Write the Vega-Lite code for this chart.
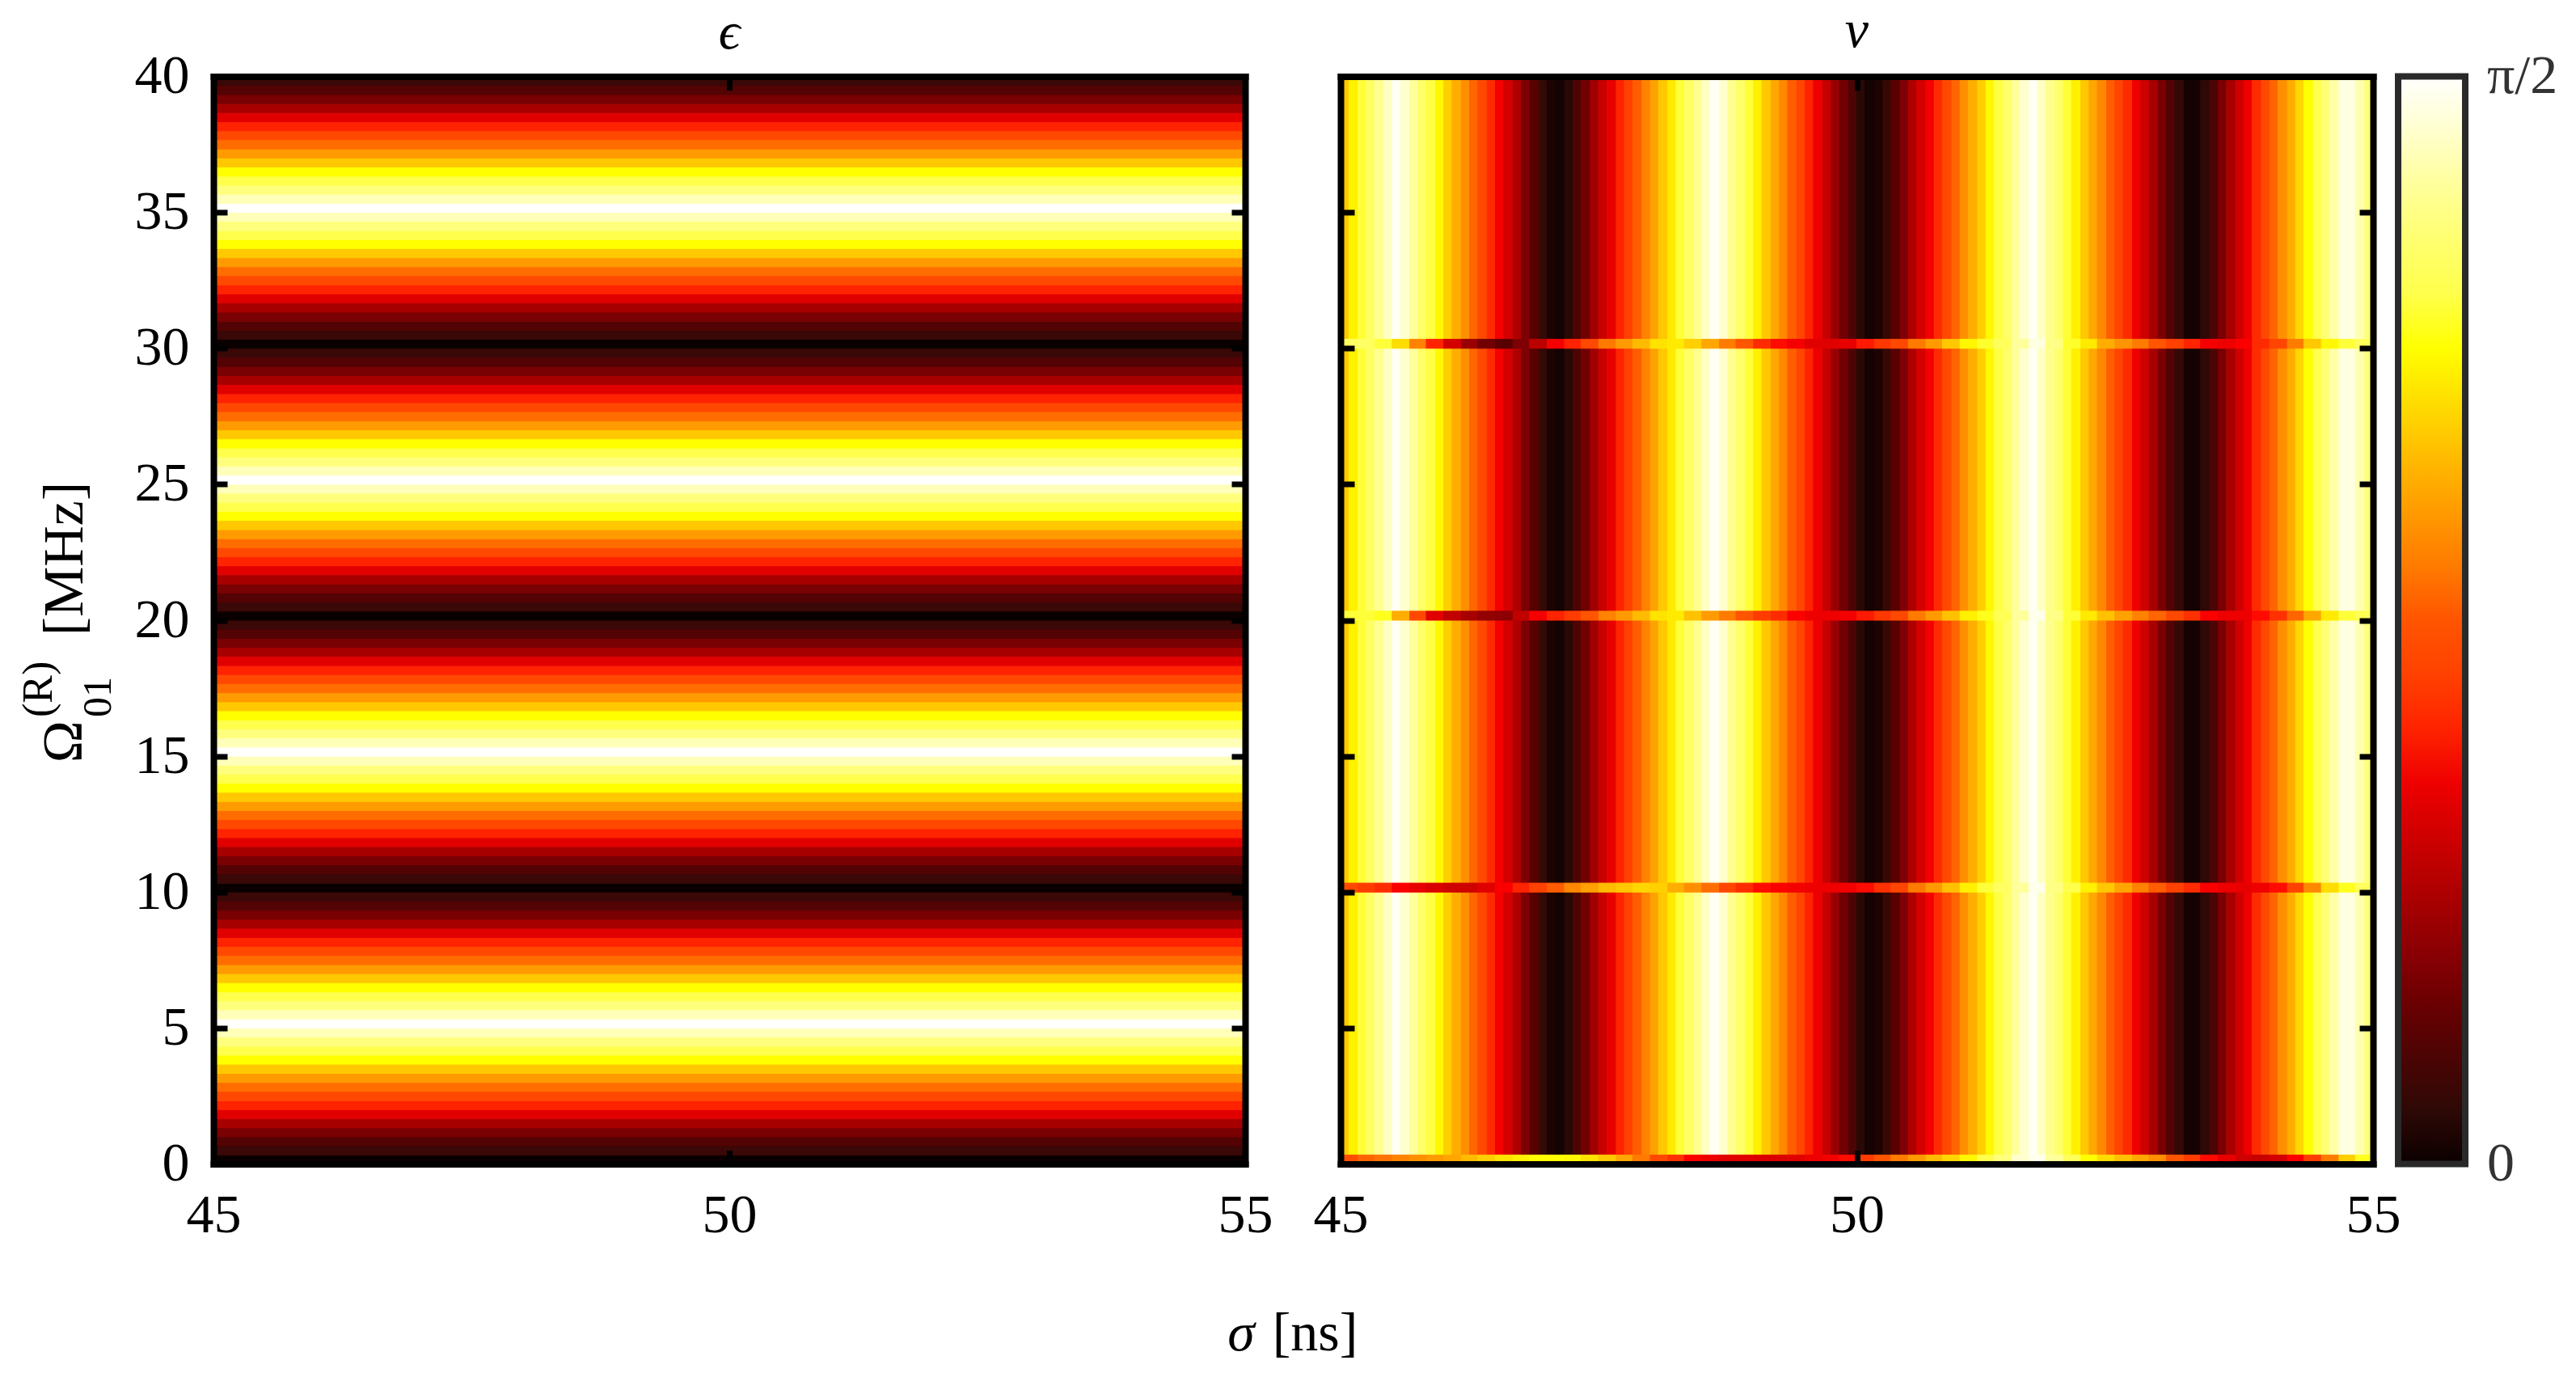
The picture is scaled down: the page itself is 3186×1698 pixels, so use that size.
{
"$schema":"https://vega.github.io/schema/vega-lite/v6.json",
"background":"white",
"padding":{"left":22,"top":4.5,"right":0,"bottom":0},
"bounds":"flush",
"spacing":118,
"config":{
"view":{"stroke":null},
"axis":{"grid":false,"domainColor":"#000","domainWidth":8,"domainCap":"square","tickColor":"#000","tickWidth":7,"tickSize":-17,"labelFont":"Liberation Serif","labelFontSize":68,"labelColor":"#000","titleFont":"Liberation Serif","titleFontSize":70,"titleFontWeight":"normal","titleColor":"#000","labelOverlap":false,"labelFlush":false},
"title":{"font":"Liberation Serif","fontSize":66,"fontWeight":"normal","fontStyle":"italic","color":"#000"},
"text":{"font":"Liberation Serif","color":"#000"}
},
"datasets":{
"epsilon":[
{"o0":0,"o1":0.33,"v":0},{"o0":0.33,"o1":0.67,"v":0.07},{"o0":0.67,"o1":1,"v":0.11},{"o0":1,"o1":1.33,"v":0.17},{"o0":1.33,"o1":1.67,"v":0.24},{"o0":1.67,"o1":2,"v":0.33},{"o0":2,"o1":2.33,"v":0.4},{"o0":2.33,"o1":2.67,"v":0.47},{"o0":2.67,"o1":3,"v":0.53},{"o0":3,"o1":3.33,"v":0.6},{"o0":3.33,"o1":3.67,"v":0.67},{"o0":3.67,"o1":4,"v":0.75},{"o0":4,"o1":4.33,"v":0.8},{"o0":4.33,"o1":4.67,"v":0.87},{"o0":4.67,"o1":5,"v":0.93},{"o0":5,"o1":5.33,"v":1},{"o0":5.33,"o1":5.67,"v":0.93},{"o0":5.67,"o1":6,"v":0.87},{"o0":6,"o1":6.33,"v":0.8},{"o0":6.33,"o1":6.67,"v":0.75},{"o0":6.67,"o1":7,"v":0.67},{"o0":7,"o1":7.33,"v":0.6},{"o0":7.33,"o1":7.67,"v":0.53},{"o0":7.67,"o1":8,"v":0.47},{"o0":8,"o1":8.33,"v":0.4},{"o0":8.33,"o1":8.67,"v":0.33},{"o0":8.67,"o1":9,"v":0.24},{"o0":9,"o1":9.33,"v":0.17},{"o0":9.33,"o1":9.67,"v":0.11},{"o0":9.67,"o1":10,"v":0.07},
{"o0":10,"o1":10.33,"v":0},{"o0":10.33,"o1":10.67,"v":0.07},{"o0":10.67,"o1":11,"v":0.11},{"o0":11,"o1":11.33,"v":0.17},{"o0":11.33,"o1":11.67,"v":0.24},{"o0":11.67,"o1":12,"v":0.33},{"o0":12,"o1":12.33,"v":0.4},{"o0":12.33,"o1":12.67,"v":0.47},{"o0":12.67,"o1":13,"v":0.53},{"o0":13,"o1":13.33,"v":0.6},{"o0":13.33,"o1":13.67,"v":0.67},{"o0":13.67,"o1":14,"v":0.75},{"o0":14,"o1":14.33,"v":0.8},{"o0":14.33,"o1":14.67,"v":0.87},{"o0":14.67,"o1":15,"v":0.93},{"o0":15,"o1":15.33,"v":1},{"o0":15.33,"o1":15.67,"v":0.93},{"o0":15.67,"o1":16,"v":0.87},{"o0":16,"o1":16.33,"v":0.8},{"o0":16.33,"o1":16.67,"v":0.75},{"o0":16.67,"o1":17,"v":0.67},{"o0":17,"o1":17.33,"v":0.6},{"o0":17.33,"o1":17.67,"v":0.53},{"o0":17.67,"o1":18,"v":0.47},{"o0":18,"o1":18.33,"v":0.4},{"o0":18.33,"o1":18.67,"v":0.33},{"o0":18.67,"o1":19,"v":0.24},{"o0":19,"o1":19.33,"v":0.17},{"o0":19.33,"o1":19.67,"v":0.11},{"o0":19.67,"o1":20,"v":0.07},
{"o0":20,"o1":20.33,"v":0},{"o0":20.33,"o1":20.67,"v":0.07},{"o0":20.67,"o1":21,"v":0.11},{"o0":21,"o1":21.33,"v":0.17},{"o0":21.33,"o1":21.67,"v":0.24},{"o0":21.67,"o1":22,"v":0.33},{"o0":22,"o1":22.33,"v":0.4},{"o0":22.33,"o1":22.67,"v":0.47},{"o0":22.67,"o1":23,"v":0.53},{"o0":23,"o1":23.33,"v":0.6},{"o0":23.33,"o1":23.67,"v":0.67},{"o0":23.67,"o1":24,"v":0.75},{"o0":24,"o1":24.33,"v":0.8},{"o0":24.33,"o1":24.67,"v":0.87},{"o0":24.67,"o1":25,"v":0.93},{"o0":25,"o1":25.33,"v":1},{"o0":25.33,"o1":25.67,"v":0.93},{"o0":25.67,"o1":26,"v":0.87},{"o0":26,"o1":26.33,"v":0.8},{"o0":26.33,"o1":26.67,"v":0.75},{"o0":26.67,"o1":27,"v":0.67},{"o0":27,"o1":27.33,"v":0.6},{"o0":27.33,"o1":27.67,"v":0.53},{"o0":27.67,"o1":28,"v":0.47},{"o0":28,"o1":28.33,"v":0.4},{"o0":28.33,"o1":28.67,"v":0.33},{"o0":28.67,"o1":29,"v":0.24},{"o0":29,"o1":29.33,"v":0.17},{"o0":29.33,"o1":29.67,"v":0.11},{"o0":29.67,"o1":30,"v":0.07},
{"o0":30,"o1":30.33,"v":0},{"o0":30.33,"o1":30.67,"v":0.07},{"o0":30.67,"o1":31,"v":0.11},{"o0":31,"o1":31.33,"v":0.17},{"o0":31.33,"o1":31.67,"v":0.24},{"o0":31.67,"o1":32,"v":0.33},{"o0":32,"o1":32.33,"v":0.4},{"o0":32.33,"o1":32.67,"v":0.47},{"o0":32.67,"o1":33,"v":0.53},{"o0":33,"o1":33.33,"v":0.6},{"o0":33.33,"o1":33.67,"v":0.67},{"o0":33.67,"o1":34,"v":0.75},{"o0":34,"o1":34.33,"v":0.8},{"o0":34.33,"o1":34.67,"v":0.87},{"o0":34.67,"o1":35,"v":0.93},{"o0":35,"o1":35.33,"v":1},{"o0":35.33,"o1":35.67,"v":0.93},{"o0":35.67,"o1":36,"v":0.87},{"o0":36,"o1":36.33,"v":0.8},{"o0":36.33,"o1":36.67,"v":0.75},{"o0":36.67,"o1":37,"v":0.67},{"o0":37,"o1":37.33,"v":0.6},{"o0":37.33,"o1":37.67,"v":0.53},{"o0":37.67,"o1":38,"v":0.47},{"o0":38,"o1":38.33,"v":0.4},{"o0":38.33,"o1":38.67,"v":0.33},{"o0":38.67,"o1":39,"v":0.24},{"o0":39,"o1":39.33,"v":0.17},{"o0":39.33,"o1":39.67,"v":0.11},{"o0":39.67,"o1":40,"v":0.07}
],
"nuColumns":[
{"s0":45,"s1":45.08,"v":0.67},{"s0":45.08,"s1":45.17,"v":0.73},{"s0":45.17,"s1":45.25,"v":0.78},{"s0":45.25,"s1":45.33,"v":0.83},{"s0":45.33,"s1":45.42,"v":0.89},{"s0":45.42,"s1":45.5,"v":0.94},{"s0":45.5,"s1":45.58,"v":0.99},{"s0":45.58,"s1":45.67,"v":0.95},{"s0":45.67,"s1":45.75,"v":0.9},{"s0":45.75,"s1":45.83,"v":0.84},{"s0":45.83,"s1":45.92,"v":0.79},{"s0":45.92,"s1":46,"v":0.74},
{"s0":46,"s1":46.08,"v":0.68},{"s0":46.08,"s1":46.17,"v":0.63},{"s0":46.17,"s1":46.25,"v":0.58},{"s0":46.25,"s1":46.33,"v":0.52},{"s0":46.33,"s1":46.42,"v":0.47},{"s0":46.42,"s1":46.5,"v":0.41},{"s0":46.5,"s1":46.58,"v":0.36},{"s0":46.58,"s1":46.67,"v":0.31},{"s0":46.67,"s1":46.75,"v":0.25},{"s0":46.75,"s1":46.83,"v":0.18},{"s0":46.83,"s1":46.92,"v":0.12},{"s0":46.92,"s1":47,"v":0.06},
{"s0":47,"s1":47.08,"v":0.02},{"s0":47.08,"s1":47.17,"v":0.01},{"s0":47.17,"s1":47.25,"v":0.04},{"s0":47.25,"s1":47.33,"v":0.1},{"s0":47.33,"s1":47.42,"v":0.16},{"s0":47.42,"s1":47.5,"v":0.23},{"s0":47.5,"s1":47.58,"v":0.29},{"s0":47.58,"s1":47.67,"v":0.34},{"s0":47.67,"s1":47.75,"v":0.4},{"s0":47.75,"s1":47.83,"v":0.45},{"s0":47.83,"s1":47.92,"v":0.51},{"s0":47.92,"s1":48,"v":0.56},
{"s0":48,"s1":48.08,"v":0.61},{"s0":48.08,"s1":48.17,"v":0.67},{"s0":48.17,"s1":48.25,"v":0.72},{"s0":48.25,"s1":48.33,"v":0.78},{"s0":48.33,"s1":48.42,"v":0.83},{"s0":48.42,"s1":48.5,"v":0.89},{"s0":48.5,"s1":48.58,"v":0.94},{"s0":48.58,"s1":48.67,"v":0.99},{"s0":48.67,"s1":48.75,"v":0.95},{"s0":48.75,"s1":48.83,"v":0.89},{"s0":48.83,"s1":48.92,"v":0.84},{"s0":48.92,"s1":49,"v":0.78},
{"s0":49,"s1":49.08,"v":0.73},{"s0":49.08,"s1":49.17,"v":0.67},{"s0":49.17,"s1":49.25,"v":0.62},{"s0":49.25,"s1":49.33,"v":0.57},{"s0":49.33,"s1":49.42,"v":0.51},{"s0":49.42,"s1":49.5,"v":0.46},{"s0":49.5,"s1":49.58,"v":0.4},{"s0":49.58,"s1":49.67,"v":0.35},{"s0":49.67,"s1":49.75,"v":0.29},{"s0":49.75,"s1":49.83,"v":0.22},{"s0":49.83,"s1":49.92,"v":0.16},{"s0":49.92,"s1":50,"v":0.1},
{"s0":50,"s1":50.08,"v":0.04},{"s0":50.08,"s1":50.17,"v":0.01},{"s0":50.17,"s1":50.25,"v":0.02},{"s0":50.25,"s1":50.33,"v":0.06},{"s0":50.33,"s1":50.42,"v":0.12},{"s0":50.42,"s1":50.5,"v":0.18},{"s0":50.5,"s1":50.58,"v":0.25},{"s0":50.58,"s1":50.67,"v":0.31},{"s0":50.67,"s1":50.75,"v":0.36},{"s0":50.75,"s1":50.83,"v":0.41},{"s0":50.83,"s1":50.92,"v":0.47},{"s0":50.92,"s1":51,"v":0.52},
{"s0":51,"s1":51.08,"v":0.58},{"s0":51.08,"s1":51.17,"v":0.63},{"s0":51.17,"s1":51.25,"v":0.68},{"s0":51.25,"s1":51.33,"v":0.74},{"s0":51.33,"s1":51.42,"v":0.79},{"s0":51.42,"s1":51.5,"v":0.84},{"s0":51.5,"s1":51.58,"v":0.9},{"s0":51.58,"s1":51.67,"v":0.95},{"s0":51.67,"s1":51.75,"v":0.99},{"s0":51.75,"s1":51.83,"v":0.94},{"s0":51.83,"s1":51.92,"v":0.89},{"s0":51.92,"s1":52,"v":0.84},
{"s0":52,"s1":52.08,"v":0.78},{"s0":52.08,"s1":52.17,"v":0.73},{"s0":52.17,"s1":52.25,"v":0.67},{"s0":52.25,"s1":52.33,"v":0.62},{"s0":52.33,"s1":52.42,"v":0.57},{"s0":52.42,"s1":52.5,"v":0.51},{"s0":52.5,"s1":52.58,"v":0.46},{"s0":52.58,"s1":52.67,"v":0.41},{"s0":52.67,"s1":52.75,"v":0.35},{"s0":52.75,"s1":52.83,"v":0.3},{"s0":52.83,"s1":52.92,"v":0.24},{"s0":52.92,"s1":53,"v":0.17},
{"s0":53,"s1":53.08,"v":0.11},{"s0":53.08,"s1":53.17,"v":0.06},{"s0":53.17,"s1":53.25,"v":0.01},{"s0":53.25,"s1":53.33,"v":0.01},{"s0":53.33,"s1":53.42,"v":0.05},{"s0":53.42,"s1":53.5,"v":0.1},{"s0":53.5,"s1":53.58,"v":0.17},{"s0":53.58,"s1":53.67,"v":0.24},{"s0":53.67,"s1":53.75,"v":0.3},{"s0":53.75,"s1":53.83,"v":0.35},{"s0":53.83,"s1":53.92,"v":0.41},{"s0":53.92,"s1":54,"v":0.47},
{"s0":54,"s1":54.08,"v":0.52},{"s0":54.08,"s1":54.17,"v":0.58},{"s0":54.17,"s1":54.25,"v":0.63},{"s0":54.25,"s1":54.33,"v":0.69},{"s0":54.33,"s1":54.42,"v":0.75},{"s0":54.42,"s1":54.5,"v":0.8},{"s0":54.5,"s1":54.58,"v":0.86},{"s0":54.58,"s1":54.67,"v":0.91},{"s0":54.67,"s1":54.75,"v":0.97},{"s0":54.75,"s1":54.83,"v":0.97},{"s0":54.83,"s1":54.92,"v":0.92},{"s0":54.92,"s1":55,"v":0.87}
],
"nuRows":[
{"o0":30,"o1":30.33,"s0":45,"s1":45.17,"v":0.83},{"o0":30,"o1":30.33,"s0":45.17,"s1":45.33,"v":0.83},{"o0":30,"o1":30.33,"s0":45.33,"s1":45.5,"v":0.78},{"o0":30,"o1":30.33,"s0":45.5,"s1":45.67,"v":0.7},{"o0":30,"o1":30.33,"s0":45.67,"s1":45.83,"v":0.56},{"o0":30,"o1":30.33,"s0":45.83,"s1":46,"v":0.4},{"o0":30,"o1":30.33,"s0":46,"s1":46.17,"v":0.31},{"o0":30,"o1":30.33,"s0":46.17,"s1":46.33,"v":0.22},{"o0":30,"o1":30.33,"s0":46.33,"s1":46.5,"v":0.16},{"o0":30,"o1":30.33,"s0":46.5,"s1":46.67,"v":0.12},{"o0":30,"o1":30.33,"s0":46.67,"s1":46.83,"v":0.18},{"o0":30,"o1":30.33,"s0":46.83,"s1":47,"v":0.27},{"o0":30,"o1":30.33,"s0":47,"s1":47.17,"v":0.36},{"o0":30,"o1":30.33,"s0":47.17,"s1":47.33,"v":0.4},{"o0":30,"o1":30.33,"s0":47.33,"s1":47.5,"v":0.47},{"o0":30,"o1":30.33,"s0":47.5,"s1":47.67,"v":0.55},{"o0":30,"o1":30.33,"s0":47.67,"s1":47.83,"v":0.6},{"o0":30,"o1":30.33,"s0":47.83,"s1":48,"v":0.65},{"o0":30,"o1":30.33,"s0":48,"s1":48.17,"v":0.71},{"o0":30,"o1":30.33,"s0":48.17,"s1":48.33,"v":0.72},{"o0":30,"o1":30.33,"s0":48.33,"s1":48.5,"v":0.68},{"o0":30,"o1":30.33,"s0":48.5,"s1":48.67,"v":0.62},{"o0":30,"o1":30.33,"s0":48.67,"s1":48.83,"v":0.55},{"o0":30,"o1":30.33,"s0":48.83,"s1":49,"v":0.5},{"o0":30,"o1":30.33,"s0":49,"s1":49.17,"v":0.41},{"o0":30,"o1":30.33,"s0":49.17,"s1":49.33,"v":0.38},{"o0":30,"o1":30.33,"s0":49.33,"s1":49.5,"v":0.36},{"o0":30,"o1":30.33,"s0":49.5,"s1":49.67,"v":0.33},{"o0":30,"o1":30.33,"s0":49.67,"s1":49.83,"v":0.33},{"o0":30,"o1":30.33,"s0":49.83,"s1":50,"v":0.34},{"o0":30,"o1":30.33,"s0":50,"s1":50.17,"v":0.39},{"o0":30,"o1":30.33,"s0":50.17,"s1":50.33,"v":0.43},{"o0":30,"o1":30.33,"s0":50.33,"s1":50.5,"v":0.47},{"o0":30,"o1":30.33,"s0":50.5,"s1":50.67,"v":0.55},{"o0":30,"o1":30.33,"s0":50.67,"s1":50.83,"v":0.6},{"o0":30,"o1":30.33,"s0":50.83,"s1":51,"v":0.67},{"o0":30,"o1":30.33,"s0":51,"s1":51.17,"v":0.74},{"o0":30,"o1":30.33,"s0":51.17,"s1":51.33,"v":0.77},{"o0":30,"o1":30.33,"s0":51.33,"s1":51.5,"v":0.82},{"o0":30,"o1":30.33,"s0":51.5,"s1":51.67,"v":0.9},{"o0":30,"o1":30.33,"s0":51.67,"s1":51.83,"v":0.97},{"o0":30,"o1":30.33,"s0":51.83,"s1":52,"v":0.88},{"o0":30,"o1":30.33,"s0":52,"s1":52.17,"v":0.77},{"o0":30,"o1":30.33,"s0":52.17,"s1":52.33,"v":0.72},{"o0":30,"o1":30.33,"s0":52.33,"s1":52.5,"v":0.63},{"o0":30,"o1":30.33,"s0":52.5,"s1":52.67,"v":0.59},{"o0":30,"o1":30.33,"s0":52.67,"s1":52.83,"v":0.55},{"o0":30,"o1":30.33,"s0":52.83,"s1":53,"v":0.5},{"o0":30,"o1":30.33,"s0":53,"s1":53.17,"v":0.45},{"o0":30,"o1":30.33,"s0":53.17,"s1":53.33,"v":0.4},{"o0":30,"o1":30.33,"s0":53.33,"s1":53.5,"v":0.36},{"o0":30,"o1":30.33,"s0":53.5,"s1":53.67,"v":0.35},{"o0":30,"o1":30.33,"s0":53.67,"s1":53.83,"v":0.37},{"o0":30,"o1":30.33,"s0":53.83,"s1":54,"v":0.41},{"o0":30,"o1":30.33,"s0":54,"s1":54.17,"v":0.46},{"o0":30,"o1":30.33,"s0":54.17,"s1":54.33,"v":0.55},{"o0":30,"o1":30.33,"s0":54.33,"s1":54.5,"v":0.67},{"o0":30,"o1":30.33,"s0":54.5,"s1":54.67,"v":0.74},{"o0":30,"o1":30.33,"s0":54.67,"s1":54.83,"v":0.78},{"o0":30,"o1":30.33,"s0":54.83,"s1":55,"v":0.82},
{"o0":20,"o1":20.33,"s0":45,"s1":45.17,"v":0.78},{"o0":20,"o1":20.33,"s0":45.17,"s1":45.33,"v":0.78},{"o0":20,"o1":20.33,"s0":45.33,"s1":45.5,"v":0.76},{"o0":20,"o1":20.33,"s0":45.5,"s1":45.67,"v":0.63},{"o0":20,"o1":20.33,"s0":45.67,"s1":45.83,"v":0.47},{"o0":20,"o1":20.33,"s0":45.83,"s1":46,"v":0.33},{"o0":20,"o1":20.33,"s0":46,"s1":46.17,"v":0.28},{"o0":20,"o1":20.33,"s0":46.17,"s1":46.33,"v":0.24},{"o0":20,"o1":20.33,"s0":46.33,"s1":46.5,"v":0.21},{"o0":20,"o1":20.33,"s0":46.5,"s1":46.67,"v":0.2},{"o0":20,"o1":20.33,"s0":46.67,"s1":46.83,"v":0.28},{"o0":20,"o1":20.33,"s0":46.83,"s1":47,"v":0.36},{"o0":20,"o1":20.33,"s0":47,"s1":47.17,"v":0.4},{"o0":20,"o1":20.33,"s0":47.17,"s1":47.33,"v":0.44},{"o0":20,"o1":20.33,"s0":47.33,"s1":47.5,"v":0.5},{"o0":20,"o1":20.33,"s0":47.5,"s1":47.67,"v":0.56},{"o0":20,"o1":20.33,"s0":47.67,"s1":47.83,"v":0.6},{"o0":20,"o1":20.33,"s0":47.83,"s1":48,"v":0.65},{"o0":20,"o1":20.33,"s0":48,"s1":48.17,"v":0.71},{"o0":20,"o1":20.33,"s0":48.17,"s1":48.33,"v":0.72},{"o0":20,"o1":20.33,"s0":48.33,"s1":48.5,"v":0.66},{"o0":20,"o1":20.33,"s0":48.5,"s1":48.67,"v":0.6},{"o0":20,"o1":20.33,"s0":48.67,"s1":48.83,"v":0.55},{"o0":20,"o1":20.33,"s0":48.83,"s1":49,"v":0.5},{"o0":20,"o1":20.33,"s0":49,"s1":49.17,"v":0.44},{"o0":20,"o1":20.33,"s0":49.17,"s1":49.33,"v":0.41},{"o0":20,"o1":20.33,"s0":49.33,"s1":49.5,"v":0.37},{"o0":20,"o1":20.33,"s0":49.5,"s1":49.67,"v":0.35},{"o0":20,"o1":20.33,"s0":49.67,"s1":49.83,"v":0.35},{"o0":20,"o1":20.33,"s0":49.83,"s1":50,"v":0.36},{"o0":20,"o1":20.33,"s0":50,"s1":50.17,"v":0.39},{"o0":20,"o1":20.33,"s0":50.17,"s1":50.33,"v":0.43},{"o0":20,"o1":20.33,"s0":50.33,"s1":50.5,"v":0.47},{"o0":20,"o1":20.33,"s0":50.5,"s1":50.67,"v":0.55},{"o0":20,"o1":20.33,"s0":50.67,"s1":50.83,"v":0.6},{"o0":20,"o1":20.33,"s0":50.83,"s1":51,"v":0.66},{"o0":20,"o1":20.33,"s0":51,"s1":51.17,"v":0.73},{"o0":20,"o1":20.33,"s0":51.17,"s1":51.33,"v":0.76},{"o0":20,"o1":20.33,"s0":51.33,"s1":51.5,"v":0.81},{"o0":20,"o1":20.33,"s0":51.5,"s1":51.67,"v":0.9},{"o0":20,"o1":20.33,"s0":51.67,"s1":51.83,"v":0.98},{"o0":20,"o1":20.33,"s0":51.83,"s1":52,"v":0.88},{"o0":20,"o1":20.33,"s0":52,"s1":52.17,"v":0.78},{"o0":20,"o1":20.33,"s0":52.17,"s1":52.33,"v":0.72},{"o0":20,"o1":20.33,"s0":52.33,"s1":52.5,"v":0.66},{"o0":20,"o1":20.33,"s0":52.5,"s1":52.67,"v":0.61},{"o0":20,"o1":20.33,"s0":52.67,"s1":52.83,"v":0.56},{"o0":20,"o1":20.33,"s0":52.83,"s1":53,"v":0.52},{"o0":20,"o1":20.33,"s0":53,"s1":53.17,"v":0.47},{"o0":20,"o1":20.33,"s0":53.17,"s1":53.33,"v":0.42},{"o0":20,"o1":20.33,"s0":53.33,"s1":53.5,"v":0.37},{"o0":20,"o1":20.33,"s0":53.5,"s1":53.67,"v":0.35},{"o0":20,"o1":20.33,"s0":53.67,"s1":53.83,"v":0.35},{"o0":20,"o1":20.33,"s0":53.83,"s1":54,"v":0.38},{"o0":20,"o1":20.33,"s0":54,"s1":54.17,"v":0.42},{"o0":20,"o1":20.33,"s0":54.17,"s1":54.33,"v":0.52},{"o0":20,"o1":20.33,"s0":54.33,"s1":54.5,"v":0.62},{"o0":20,"o1":20.33,"s0":54.5,"s1":54.67,"v":0.72},{"o0":20,"o1":20.33,"s0":54.67,"s1":54.83,"v":0.78},{"o0":20,"o1":20.33,"s0":54.83,"s1":55,"v":0.81},
{"o0":10,"o1":10.33,"s0":45,"s1":45.17,"v":0.47},{"o0":10,"o1":10.33,"s0":45.17,"s1":45.33,"v":0.44},{"o0":10,"o1":10.33,"s0":45.33,"s1":45.5,"v":0.41},{"o0":10,"o1":10.33,"s0":45.5,"s1":45.67,"v":0.37},{"o0":10,"o1":10.33,"s0":45.67,"s1":45.83,"v":0.34},{"o0":10,"o1":10.33,"s0":45.83,"s1":46,"v":0.32},{"o0":10,"o1":10.33,"s0":46,"s1":46.17,"v":0.3},{"o0":10,"o1":10.33,"s0":46.17,"s1":46.33,"v":0.3},{"o0":10,"o1":10.33,"s0":46.33,"s1":46.5,"v":0.33},{"o0":10,"o1":10.33,"s0":46.5,"s1":46.67,"v":0.37},{"o0":10,"o1":10.33,"s0":46.67,"s1":46.83,"v":0.4},{"o0":10,"o1":10.33,"s0":46.83,"s1":47,"v":0.45},{"o0":10,"o1":10.33,"s0":47,"s1":47.17,"v":0.51},{"o0":10,"o1":10.33,"s0":47.17,"s1":47.33,"v":0.57},{"o0":10,"o1":10.33,"s0":47.33,"s1":47.5,"v":0.61},{"o0":10,"o1":10.33,"s0":47.5,"s1":47.67,"v":0.65},{"o0":10,"o1":10.33,"s0":47.67,"s1":47.83,"v":0.67},{"o0":10,"o1":10.33,"s0":47.83,"s1":48,"v":0.69},{"o0":10,"o1":10.33,"s0":48,"s1":48.17,"v":0.68},{"o0":10,"o1":10.33,"s0":48.17,"s1":48.33,"v":0.63},{"o0":10,"o1":10.33,"s0":48.33,"s1":48.5,"v":0.58},{"o0":10,"o1":10.33,"s0":48.5,"s1":48.67,"v":0.53},{"o0":10,"o1":10.33,"s0":48.67,"s1":48.83,"v":0.46},{"o0":10,"o1":10.33,"s0":48.83,"s1":49,"v":0.41},{"o0":10,"o1":10.33,"s0":49,"s1":49.17,"v":0.38},{"o0":10,"o1":10.33,"s0":49.17,"s1":49.33,"v":0.37},{"o0":10,"o1":10.33,"s0":49.33,"s1":49.5,"v":0.36},{"o0":10,"o1":10.33,"s0":49.5,"s1":49.67,"v":0.35},{"o0":10,"o1":10.33,"s0":49.67,"s1":49.83,"v":0.35},{"o0":10,"o1":10.33,"s0":49.83,"s1":50,"v":0.36},{"o0":10,"o1":10.33,"s0":50,"s1":50.17,"v":0.38},{"o0":10,"o1":10.33,"s0":50.17,"s1":50.33,"v":0.42},{"o0":10,"o1":10.33,"s0":50.33,"s1":50.5,"v":0.46},{"o0":10,"o1":10.33,"s0":50.5,"s1":50.67,"v":0.55},{"o0":10,"o1":10.33,"s0":50.67,"s1":50.83,"v":0.6},{"o0":10,"o1":10.33,"s0":50.83,"s1":51,"v":0.66},{"o0":10,"o1":10.33,"s0":51,"s1":51.17,"v":0.73},{"o0":10,"o1":10.33,"s0":51.17,"s1":51.33,"v":0.78},{"o0":10,"o1":10.33,"s0":51.33,"s1":51.5,"v":0.83},{"o0":10,"o1":10.33,"s0":51.5,"s1":51.67,"v":0.9},{"o0":10,"o1":10.33,"s0":51.67,"s1":51.83,"v":0.98},{"o0":10,"o1":10.33,"s0":51.83,"s1":52,"v":0.88},{"o0":10,"o1":10.33,"s0":52,"s1":52.17,"v":0.8},{"o0":10,"o1":10.33,"s0":52.17,"s1":52.33,"v":0.73},{"o0":10,"o1":10.33,"s0":52.33,"s1":52.5,"v":0.67},{"o0":10,"o1":10.33,"s0":52.5,"s1":52.67,"v":0.62},{"o0":10,"o1":10.33,"s0":52.67,"s1":52.83,"v":0.56},{"o0":10,"o1":10.33,"s0":52.83,"s1":53,"v":0.51},{"o0":10,"o1":10.33,"s0":53,"s1":53.17,"v":0.45},{"o0":10,"o1":10.33,"s0":53.17,"s1":53.33,"v":0.41},{"o0":10,"o1":10.33,"s0":53.33,"s1":53.5,"v":0.37},{"o0":10,"o1":10.33,"s0":53.5,"s1":53.67,"v":0.35},{"o0":10,"o1":10.33,"s0":53.67,"s1":53.83,"v":0.34},{"o0":10,"o1":10.33,"s0":53.83,"s1":54,"v":0.35},{"o0":10,"o1":10.33,"s0":54,"s1":54.17,"v":0.38},{"o0":10,"o1":10.33,"s0":54.17,"s1":54.33,"v":0.45},{"o0":10,"o1":10.33,"s0":54.33,"s1":54.5,"v":0.57},{"o0":10,"o1":10.33,"s0":54.5,"s1":54.67,"v":0.7},{"o0":10,"o1":10.33,"s0":54.67,"s1":54.83,"v":0.76},{"o0":10,"o1":10.33,"s0":54.83,"s1":55,"v":0.82},
{"o0":0,"o1":0.33,"s0":45,"s1":45.17,"v":0.48},{"o0":0,"o1":0.33,"s0":45.17,"s1":45.33,"v":0.52},{"o0":0,"o1":0.33,"s0":45.33,"s1":45.5,"v":0.54},{"o0":0,"o1":0.33,"s0":45.5,"s1":45.67,"v":0.56},{"o0":0,"o1":0.33,"s0":45.67,"s1":45.83,"v":0.58},{"o0":0,"o1":0.33,"s0":45.83,"s1":46,"v":0.6},{"o0":0,"o1":0.33,"s0":46,"s1":46.17,"v":0.62},{"o0":0,"o1":0.33,"s0":46.17,"s1":46.33,"v":0.65},{"o0":0,"o1":0.33,"s0":46.33,"s1":46.5,"v":0.68},{"o0":0,"o1":0.33,"s0":46.5,"s1":46.67,"v":0.71},{"o0":0,"o1":0.33,"s0":46.67,"s1":46.83,"v":0.73},{"o0":0,"o1":0.33,"s0":46.83,"s1":47,"v":0.75},{"o0":0,"o1":0.33,"s0":47,"s1":47.17,"v":0.75},{"o0":0,"o1":0.33,"s0":47.17,"s1":47.33,"v":0.74},{"o0":0,"o1":0.33,"s0":47.33,"s1":47.5,"v":0.71},{"o0":0,"o1":0.33,"s0":47.5,"s1":47.67,"v":0.67},{"o0":0,"o1":0.33,"s0":47.67,"s1":47.83,"v":0.62},{"o0":0,"o1":0.33,"s0":47.83,"s1":48,"v":0.55},{"o0":0,"o1":0.33,"s0":48,"s1":48.17,"v":0.47},{"o0":0,"o1":0.33,"s0":48.17,"s1":48.33,"v":0.42},{"o0":0,"o1":0.33,"s0":48.33,"s1":48.5,"v":0.37},{"o0":0,"o1":0.33,"s0":48.5,"s1":48.67,"v":0.35},{"o0":0,"o1":0.33,"s0":48.67,"s1":48.83,"v":0.33},{"o0":0,"o1":0.33,"s0":48.83,"s1":49,"v":0.33},{"o0":0,"o1":0.33,"s0":49,"s1":49.17,"v":0.32},{"o0":0,"o1":0.33,"s0":49.17,"s1":49.33,"v":0.32},{"o0":0,"o1":0.33,"s0":49.33,"s1":49.5,"v":0.33},{"o0":0,"o1":0.33,"s0":49.5,"s1":49.67,"v":0.35},{"o0":0,"o1":0.33,"s0":49.67,"s1":49.83,"v":0.36},{"o0":0,"o1":0.33,"s0":49.83,"s1":50,"v":0.38},{"o0":0,"o1":0.33,"s0":50,"s1":50.17,"v":0.44},{"o0":0,"o1":0.33,"s0":50.17,"s1":50.33,"v":0.5},{"o0":0,"o1":0.33,"s0":50.33,"s1":50.5,"v":0.55},{"o0":0,"o1":0.33,"s0":50.5,"s1":50.67,"v":0.6},{"o0":0,"o1":0.33,"s0":50.67,"s1":50.83,"v":0.65},{"o0":0,"o1":0.33,"s0":50.83,"s1":51,"v":0.69},{"o0":0,"o1":0.33,"s0":51,"s1":51.17,"v":0.74},{"o0":0,"o1":0.33,"s0":51.17,"s1":51.33,"v":0.8},{"o0":0,"o1":0.33,"s0":51.33,"s1":51.5,"v":0.87},{"o0":0,"o1":0.33,"s0":51.5,"s1":51.67,"v":0.95},{"o0":0,"o1":0.33,"s0":51.67,"s1":51.83,"v":0.98},{"o0":0,"o1":0.33,"s0":51.83,"s1":52,"v":0.9},{"o0":0,"o1":0.33,"s0":52,"s1":52.17,"v":0.82},{"o0":0,"o1":0.33,"s0":52.17,"s1":52.33,"v":0.75},{"o0":0,"o1":0.33,"s0":52.33,"s1":52.5,"v":0.7},{"o0":0,"o1":0.33,"s0":52.5,"s1":52.67,"v":0.66},{"o0":0,"o1":0.33,"s0":52.67,"s1":52.83,"v":0.62},{"o0":0,"o1":0.33,"s0":52.83,"s1":53,"v":0.58},{"o0":0,"o1":0.33,"s0":53,"s1":53.17,"v":0.5},{"o0":0,"o1":0.33,"s0":53.17,"s1":53.33,"v":0.44},{"o0":0,"o1":0.33,"s0":53.33,"s1":53.5,"v":0.38},{"o0":0,"o1":0.33,"s0":53.5,"s1":53.67,"v":0.34},{"o0":0,"o1":0.33,"s0":53.67,"s1":53.83,"v":0.3},{"o0":0,"o1":0.33,"s0":53.83,"s1":54,"v":0.29},{"o0":0,"o1":0.33,"s0":54,"s1":54.17,"v":0.31},{"o0":0,"o1":0.33,"s0":54.17,"s1":54.33,"v":0.37},{"o0":0,"o1":0.33,"s0":54.33,"s1":54.5,"v":0.44},{"o0":0,"o1":0.33,"s0":54.5,"s1":54.67,"v":0.55},{"o0":0,"o1":0.33,"s0":54.67,"s1":54.83,"v":0.68},{"o0":0,"o1":0.33,"s0":54.83,"s1":55,"v":0.76}
]
},
"hconcat":[
{
"width":1276,"height":1345,
"title":{"text":"ϵ","offset":-13},
"resolve":{"axis":{"x":"independent","y":"independent"}},
"layer":[
{
"data":{"name":"epsilon"},
"mark":{"type":"rect","strokeWidth":1},
"encoding":{
"x":{"datum":45,"type":"quantitative","scale":{"domain":[45,55],"nice":false},"axis":{"zindex":1,"values":[45,50,55],"labelPadding":47,"title":"[ns]","titleX":1362,"titleY":230,"titleBaseline":"alphabetic","titleAlign":"center","titleFontSize":68}},
"x2":{"datum":55},
"y":{"field":"o0","type":"quantitative","scale":{"domain":[0,40],"nice":false},"axis":{"zindex":1,"values":[0,5,10,15,20,25,30,35,40],"labelPadding":47,"title":"[MHz]","titleAngle":270,"titleX":-163,"titleY":596,"titleBaseline":"alphabetic","titleAlign":"center"}},
"y2":{"field":"o1"},
"color":{"field":"v","type":"quantitative","scale":{"domain":[0,1],"range":["#0b0000","#5c0000","#ae0000","#ff0000","#ff5500","#ffaa00","#ffff00","#ffff80","#fffffe"]},"legend":{"type":"gradient","orient":"none","legendX":2702,"legendY":0,"title":null,"values":[0,1],"labelExpr":"datum.value > 0.5 ? 'π/2' : '0'","gradientLength":1345,"gradientThickness":83,"gradientStrokeColor":"#2a2a2a","gradientStrokeWidth":8,"labelFont":"Liberation Serif","labelFontSize":68,"labelColor":"#333","labelOffset":27,"labelOverlap":false,"encode":{"labels":{"update":{"baseline":{"value":"middle"}}}}}},
"stroke":{"field":"v","type":"quantitative","scale":{"domain":[0,1.000001],"range":["#0b0000","#5c0000","#ae0000","#ff0000","#ff5500","#ffaa00","#ffff00","#ffff80","#fffffe"]},"legend":null}
}
},
{
"data":{"name":"epsilon"},
"mark":{"type":"rect","opacity":0},
"encoding":{
"x":{"datum":45,"type":"quantitative","scale":{"domain":[45,55],"nice":false},"axis":{"zindex":1,"orient":"top","values":[45,50,55],"labels":false,"title":null}},
"x2":{"datum":55},
"y":{"field":"o0","type":"quantitative","scale":{"domain":[0,40],"nice":false},"axis":{"zindex":1,"orient":"right","values":[0,5,10,15,20,25,30,35,40],"labels":false,"title":null}},
"y2":{"field":"o1"}
}
},
{
"data":{"values":[{}]},
"mark":{"type":"text","text":"Ω","angle":270,"align":"left","baseline":"alphabetic","fontSize":70,"dy":-163},
"encoding":{
"x":{"datum":45,"type":"quantitative","scale":{"domain":[45,55],"nice":false},"axis":null},
"y":{"datum":14.76,"type":"quantitative","scale":{"domain":[0,40],"nice":false},"axis":null}
}
},
{
"data":{"values":[{}]},
"mark":{"type":"text","text":"(R)","angle":270,"align":"left","baseline":"alphabetic","fontSize":52,"dy":-200},
"encoding":{
"x":{"datum":45,"type":"quantitative","scale":{"domain":[45,55],"nice":false},"axis":null},
"y":{"datum":16.43,"type":"quantitative","scale":{"domain":[0,40],"nice":false},"axis":null}
}
},
{
"data":{"values":[{}]},
"mark":{"type":"text","text":"01","angle":270,"align":"left","baseline":"alphabetic","fontSize":50,"dy":-127},
"encoding":{
"x":{"datum":45,"type":"quantitative","scale":{"domain":[45,55],"nice":false},"axis":null},
"y":{"datum":16.43,"type":"quantitative","scale":{"domain":[0,40],"nice":false},"axis":null}
}
},
{
"data":{"values":[{}]},
"mark":{"type":"text","text":"σ","align":"center","baseline":"alphabetic","fontSize":68,"fontStyle":"italic","dy":230},
"encoding":{
"x":{"datum":54.96,"type":"quantitative","scale":{"domain":[45,55],"nice":false},"axis":null},
"y":{"datum":0,"type":"quantitative","scale":{"domain":[0,40],"nice":false},"axis":null}
}
}
]
},
{
"width":1277,"height":1345,
"title":{"text":"ν","offset":19},
"resolve":{"axis":{"x":"independent","y":"independent"}},
"layer":[
{
"data":{"name":"nuColumns"},
"mark":{"type":"rect","strokeWidth":1},
"encoding":{
"x":{"field":"s0","type":"quantitative","scale":{"domain":[45,55],"nice":false},"axis":{"zindex":1,"values":[45,50,55],"labelPadding":47,"title":null}},
"x2":{"field":"s1"},
"y":{"datum":0,"type":"quantitative","scale":{"domain":[0,40],"nice":false},"axis":{"zindex":1,"values":[0,5,10,15,20,25,30,35,40],"labels":false,"title":null}},
"y2":{"datum":40},
"color":{"field":"v","type":"quantitative","scale":{"domain":[0,1],"range":["#0b0000","#5c0000","#ae0000","#ff0000","#ff5500","#ffaa00","#ffff00","#ffff80","#fffffe"]},"legend":{"type":"gradient","orient":"none","legendX":2702,"legendY":0,"title":null,"values":[0,1],"labelExpr":"datum.value > 0.5 ? 'π/2' : '0'","gradientLength":1345,"gradientThickness":83,"gradientStrokeColor":"#2a2a2a","gradientStrokeWidth":8,"labelFont":"Liberation Serif","labelFontSize":68,"labelColor":"#333","labelOffset":27,"labelOverlap":false,"encode":{"labels":{"update":{"baseline":{"value":"middle"}}}}}},
"stroke":{"field":"v","type":"quantitative","scale":{"domain":[0,1.000001],"range":["#0b0000","#5c0000","#ae0000","#ff0000","#ff5500","#ffaa00","#ffff00","#ffff80","#fffffe"]},"legend":null}
}
},
{
"data":{"name":"nuRows"},
"mark":{"type":"rect","strokeWidth":1},
"encoding":{
"x":{"field":"s0","type":"quantitative","scale":{"domain":[45,55],"nice":false},"axis":{"zindex":1,"orient":"top","values":[45,50,55],"labels":false,"title":null}},
"x2":{"field":"s1"},
"y":{"field":"o0","type":"quantitative","scale":{"domain":[0,40],"nice":false},"axis":{"zindex":1,"orient":"right","values":[0,5,10,15,20,25,30,35,40],"labels":false,"title":null}},
"y2":{"field":"o1"},
"color":{"field":"v","type":"quantitative","scale":{"domain":[0,1],"range":["#0b0000","#5c0000","#ae0000","#ff0000","#ff5500","#ffaa00","#ffff00","#ffff80","#fffffe"]},"legend":null},
"stroke":{"field":"v","type":"quantitative","scale":{"domain":[0,1.000001],"range":["#0b0000","#5c0000","#ae0000","#ff0000","#ff5500","#ffaa00","#ffff00","#ffff80","#fffffe"]},"legend":null}
}
}
]
}
]
}
